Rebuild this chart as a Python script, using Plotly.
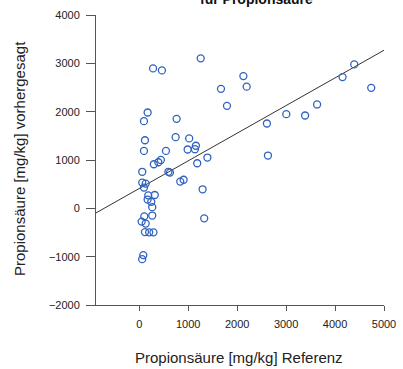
import plotly.graph_objects as go

# Reference (x) and predicted (y) values for Propionsäure [mg/kg]
referenz = [282, 463, 1255, 2127, 2194, 1669, 1792, 171, 96, 763,
            116, 743, 1020, 96, 545, 988, 1157, 1137, 298, 390,
            441, 1184, 1392, 61, 596, 627, 837, 906, 1294, 1327,
            61, 131, 96, 184, 316, 171, 245, 265, 265, 102,
            49, 131, 116, 202, 290, 82, 59, 4392, 4153, 4739,
            3633, 3004, 3388, 2608, 2629]
vorhergesagt = [2895, 2854, 3103, 2736, 2518, 2473, 2120, 1983, 1803, 1851,
                1409, 1472, 1447, 1188, 1188, 1217, 1295, 1223, 912, 953,
                1001, 933, 1051, 756, 756, 740, 553, 591, 394, -207,
                533, 512, 429, 269, 276, 182, 135, 25, -149, -166,
                -274, -315, -491, -497, -497, -968, -1051, 2978, 2715, 2493,
                2149, 1948, 1921, 1755, 1092]

# Fitted regression line
fit_intercept = 411
fit_slope = 0.572
x_range = [-884, 5000]
y_range = [-2000, 4000]
x_ticks = [0, 1000, 2000, 3000, 4000, 5000]
y_ticks = [-2000, -1000, 0, 1000, 2000, 3000, 4000]

line_x = x_range
line_y = [fit_intercept + fit_slope * v for v in line_x]

fig = go.Figure()
fig.add_trace(go.Scatter(
    x=line_x, y=line_y, mode="lines",
    line=dict(color="#333333", width=1), hoverinfo="skip", showlegend=False))
fig.add_trace(go.Scatter(
    x=referenz, y=vorhergesagt, mode="markers",
    marker=dict(symbol="circle-open", size=7, color="#2f62bf",
                line=dict(width=1.3, color="#2f62bf")),
    showlegend=False))

font_family = "Liberation Sans, Arial, sans-serif"
L, R, T, B = 96, 19, 15, 64
PW, PH = 403 - L - R, 369 - T - B

fig.update_layout(
    width=403, height=369,
    margin=dict(l=L, r=R, t=T, b=B, autoexpand=False),
    paper_bgcolor="white", plot_bgcolor="white",
    font=dict(family=font_family, color="#222222"),
    showlegend=False,
    xaxis=dict(range=x_range, tickvals=x_ticks, showgrid=False, zeroline=False,
               showline=True, linecolor="#555555", linewidth=1,
               ticks="outside", ticklen=5, tickcolor="#555555",
               ticklabelstandoff=4,
               tickfont=dict(size=11, color="#222222"), automargin=False),
    yaxis=dict(range=y_range, tickvals=y_ticks, showgrid=False, zeroline=False,
               showline=True, linecolor="#555555", linewidth=1,
               ticks="outside", ticklen=9, tickcolor="#555555",
               ticklabelstandoff=4,
               tickfont=dict(size=11, color="#222222"), automargin=False),
    annotations=[
        dict(text="<b>für Propionsäure</b>", xref="paper", yref="paper",
             x=(256 - L) / PW, y=1 + 6 / PH, xanchor="center",
             yanchor="bottom", showarrow=False,
             font=dict(size=14, color="#111111")),
        dict(text="Propionsäure [mg/kg] Referenz", xref="paper", yref="paper",
             x=(239 - L) / PW, y=-(357 - (T + PH)) / PH, xanchor="center",
             yanchor="middle", showarrow=False,
             font=dict(size=15, color="#222222")),
        dict(text="Propionsäure [mg/kg] vorhergesagt", xref="paper", yref="paper",
             x=-(L - 19) / PW, y=1 - (159 - T) / PH, xanchor="center",
             yanchor="middle", showarrow=False, textangle=-90,
             font=dict(size=15, color="#222222")),
    ],
)

fig.write_html("out.html", config={"displayModeBar": False},
               post_script="document.body.style.margin='0';")
